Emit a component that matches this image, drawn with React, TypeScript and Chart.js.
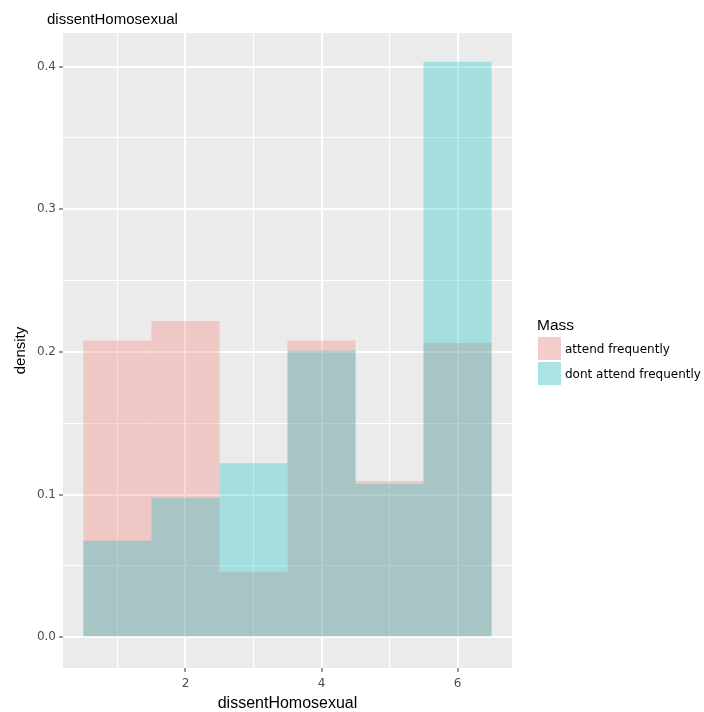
import React, { useEffect, useRef } from "react";
import { Chart, registerables } from "chart.js";

Chart.register(...registerables);

const binCenters = [1, 2, 3, 4, 5, 6];
const attendFrequently = [0.208, 0.2217, 0.0459, 0.208, 0.1096, 0.2062];
const dontAttendFrequently = [0.0676, 0.0978, 0.122, 0.201, 0.1077, 0.4033];
const seriesNames = ["attend frequently", "dont attend frequently"];
const xGridValues = [1, 2, 3, 4, 5, 6];
const yGridValues = [0, 0.05, 0.1, 0.15, 0.2, 0.25, 0.3, 0.35, 0.4];
const titleText = "dissentHomosexual";
const xTitle = "dissentHomosexual";
const yTitle = "density";
const legendTitle = "Mass";

const PINK = "rgba(248,118,109,0.3)";
const TEAL = "rgba(0,191,196,0.3)";
const SANS = '"Liberation Sans", Arial, sans-serif';
const SMALL = '"DejaVu Sans", sans-serif';

const isMajorX = (v: number) => Math.abs(v % 2) < 1e-6;
const isMajorY = (v: number) => Math.abs(v * 10 - Math.round(v * 10)) < 1e-6;

const decorPlugin = {
  id: "decor",
  beforeDraw(chart: any) {
    const { ctx, chartArea } = chart;
    ctx.save();
    ctx.fillStyle = "#EBEBEB";
    ctx.fillRect(chartArea.left, chartArea.top, chartArea.right - chartArea.left, chartArea.bottom - chartArea.top);
    ctx.restore();
  },
  afterDraw(chart: any) {
    const { ctx, chartArea } = chart;
    ctx.save();
    ctx.fillStyle = "#000000";
    ctx.textBaseline = "alphabetic";
    // plot title
    ctx.font = `15px ${SANS}`;
    ctx.textAlign = "left";
    ctx.fillText(titleText, 47, 24);
    // x title
    ctx.font = `16px ${SANS}`;
    ctx.textAlign = "center";
    ctx.fillText(xTitle, (chartArea.left + chartArea.right) / 2, 708);
    // y title
    ctx.save();
    ctx.translate(25, (chartArea.top + chartArea.bottom) / 2);
    ctx.rotate(-Math.PI / 2);
    ctx.font = `15px ${SANS}`;
    ctx.textAlign = "center";
    ctx.fillText(yTitle, 0, 0);
    ctx.restore();
    // legend
    ctx.font = `15.5px ${SANS}`;
    ctx.textAlign = "left";
    ctx.fillText(legendTitle, 537, 330);
    const fills = [PINK, TEAL];
    ctx.font = `12px ${SMALL}`;
    ctx.textBaseline = "middle";
    for (let i = 0; i < 2; i++) {
      const y = 337 + i * 25;
      ctx.fillStyle = "#F2F2F2";
      ctx.fillRect(538, y, 23, 23);
      ctx.fillStyle = fills[i];
      ctx.fillRect(538, y, 23, 23);
      ctx.fillStyle = "#000000";
      ctx.fillText(seriesNames[i], 565, y + 12.5);
    }
    ctx.restore();
  },
};

export default function App() {
  const ref = useRef<HTMLCanvasElement | null>(null);
  useEffect(() => {
    if (!ref.current) return;
    const chart = new Chart(ref.current, {
      type: "bar",
      data: {
        datasets: [
          {
            label: seriesNames[0],
            data: binCenters.map((x, i) => ({ x, y: attendFrequently[i] })),
            backgroundColor: PINK,
            borderWidth: 0,
            grouped: false,
            order: 1,
            barPercentage: 1,
            categoryPercentage: 1,
            inflateAmount: 0,
          } as any,
          {
            label: seriesNames[1],
            data: binCenters.map((x, i) => ({ x, y: dontAttendFrequently[i] })),
            backgroundColor: TEAL,
            borderWidth: 0,
            grouped: false,
            order: 0,
            barPercentage: 1,
            categoryPercentage: 1,
            inflateAmount: 0,
          } as any,
        ],
      },
      options: {
        animation: false,
        responsive: false,
        devicePixelRatio: 1,
        events: [],
        layout: { padding: { left: 0, top: 33, right: 192, bottom: 0 } },
        plugins: { legend: { display: false }, title: { display: false }, tooltip: { enabled: false } },
        scales: {
          x: {
            type: "linear",
            min: 0.2,
            max: 6.8,
            offset: false,
            afterFit: (s: any) => {
              s.height = 44;
            },
            afterBuildTicks: (s: any) => {
              s.ticks = xGridValues.map((v) => ({ value: v }));
            },
            border: { display: false },
            grid: {
              offset: false,
              color: "#FFFFFF",
              lineWidth: (c: any) => (c.tick && isMajorX(c.tick.value) ? 2 : 1),
              drawTicks: true,
              tickLength: 4,
              tickWidth: 1,
              tickColor: (c: any) => (c.tick && isMajorX(c.tick.value) ? "#333333" : "rgba(0,0,0,0)"),
            },
            ticks: {
              autoSkip: false,
              maxRotation: 0,
              padding: 5,
              color: "#4D4D4D",
              font: { family: SMALL, size: 12 },
              callback: (v: any) => (isMajorX(Number(v)) ? String(v) : ""),
            },
          },
          y: {
            type: "linear",
            min: -0.0215,
            max: 0.4235,
            afterFit: (s: any) => {
              s.width = 63;
            },
            afterBuildTicks: (s: any) => {
              s.ticks = yGridValues.map((v) => ({ value: v }));
            },
            border: { display: false },
            grid: {
              color: "#FFFFFF",
              lineWidth: (c: any) => (c.tick && isMajorY(c.tick.value) ? 2 : 1),
              drawTicks: true,
              tickLength: 4,
              tickWidth: 1,
              tickColor: (c: any) => (c.tick && isMajorY(c.tick.value) ? "#333333" : "rgba(0,0,0,0)"),
            },
            ticks: {
              autoSkip: false,
              padding: 3,
              color: "#4D4D4D",
              font: { family: SMALL, size: 12 },
              callback: (v: any) => (isMajorY(Number(v)) ? Number(v).toFixed(1) : ""),
            },
          },
        },
      } as any,
      plugins: [decorPlugin],
    });
    return () => chart.destroy();
  }, []);
  return (
    <div style={{ position: "absolute", left: 0, top: 0, width: 704, height: 712, background: "#FFFFFF" }}>
      <canvas ref={ref} width={704} height={712} style={{ display: "block" }} />
    </div>
  );
}
